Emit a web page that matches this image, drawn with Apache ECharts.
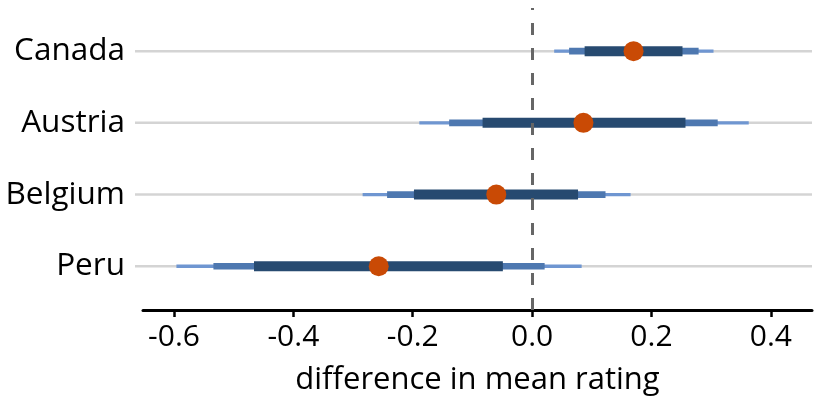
<!DOCTYPE html>
<html><head><meta charset="utf-8">
<script src="https://cdn.jsdelivr.net/npm/echarts@6/dist/echarts.min.js"></script>
<style>html,body{margin:0;padding:0;background:#fff}#c{width:818px;height:405px}</style>
</head><body><div id="c"></div>
<script>
// Data (rows top to bottom)
const countries = ['Canada', 'Austria', 'Belgium', 'Peru'];
const estimate  = [0.170, 0.086, -0.060, -0.257];
const outerLo   = [0.037, -0.189, -0.284, -0.596];
const outerHi   = [0.304, 0.363, 0.165, 0.083];
const midLo     = [0.062, -0.139, -0.243, -0.534];
const midHi     = [0.279, 0.311, 0.123, 0.021];
const innerLo   = [0.088, -0.083, -0.198, -0.466];
const innerHi   = [0.252, 0.257, 0.077, -0.049];
const xTicks    = [-0.6, -0.4, -0.2, 0.0, 0.2, 0.4];
const xLabel    = 'difference in mean rating';

const FONT = '"Open Sans", "DejaVu Sans", sans-serif';
const rows = countries.map((c, i) => countries.length - i);

const intervalData = countries.map((c, i) => [rows[i], outerLo[i], outerHi[i], midLo[i], midHi[i], innerLo[i], innerHi[i]]);
const pointData = countries.map((c, i) => [estimate[i], rows[i]]);
const guideData = rows.map(r => [0, r]);

const chart = echarts.init(document.getElementById('c'), null, {renderer: 'canvas'});
chart.setOption({
  animation: false,
  grid: {left: 143, right: 6, top: 8, bottom: 95},
  xAxis: {
    type: 'value', min: -0.652, max: 0.469,
    axisLine: {show: true, lineStyle: {color: '#000', width: 3}},
    axisTick: {show: true, customValues: xTicks, length: 7, lineStyle: {color: '#000', width: 2.5}},
    axisLabel: {customValues: xTicks, formatter: v => v.toFixed(1), fontSize: 30, fontFamily: FONT, color: '#000', margin: 12},
    splitLine: {show: false},
    name: xLabel, nameLocation: 'middle', nameGap: 55,
    nameTextStyle: {fontSize: 31, fontFamily: FONT, color: '#000'}
  },
  yAxis: {
    type: 'value', min: 0.39, max: 4.602,
    axisLine: {show: false}, axisTick: {show: false}, splitLine: {show: false},
    axisLabel: {customValues: rows, formatter: v => countries[countries.length - Math.round(v)],
      fontSize: 31.5, fontFamily: FONT, color: '#000', margin: 18}
  },
  series: [
    {
      type: 'custom', data: guideData, encode: {x: 0, y: 1}, silent: true, z: 1,
      renderItem: (params, api) => {
        const y = api.coord([0, api.value(1)])[1];
        const cs = params.coordSys;
        return {type: 'line', shape: {x1: cs.x - 8, y1: y, x2: cs.x + cs.width, y2: y},
          style: {stroke: '#d4d4d4', lineWidth: 2.5}};
      },
      markLine: {
        silent: true, symbol: ['none', 'none'], label: {show: false},
        lineStyle: {type: [12, 13], color: '#666666', width: 3, opacity: 1},
        data: [{xAxis: 0}]
      }
    },
    {
      type: 'custom', data: intervalData, encode: {x: [1, 2], y: 0}, silent: true, z: 3,
      renderItem: (params, api) => {
        const r = api.value(0);
        const seg = (lo, hi, w, col) => {
          const a = api.coord([api.value(lo), r]);
          const b = api.coord([api.value(hi), r]);
          return {type: 'line', shape: {x1: a[0], y1: a[1], x2: b[0], y2: b[1]},
            style: {stroke: col, lineWidth: w, lineCap: 'butt'}};
        };
        return {type: 'group', children: [
          seg(1, 2, 3.3, '#6f96d1'),
          seg(3, 4, 6.7, '#4e78b0'),
          seg(5, 6, 10, '#274a70')
        ]};
      }
    },
    {
      type: 'scatter', data: pointData, symbol: 'circle', symbolSize: 20, z: 5, silent: true,
      itemStyle: {color: '#c94a05', opacity: 1}
    }
  ]
});
</script>
</body></html>
